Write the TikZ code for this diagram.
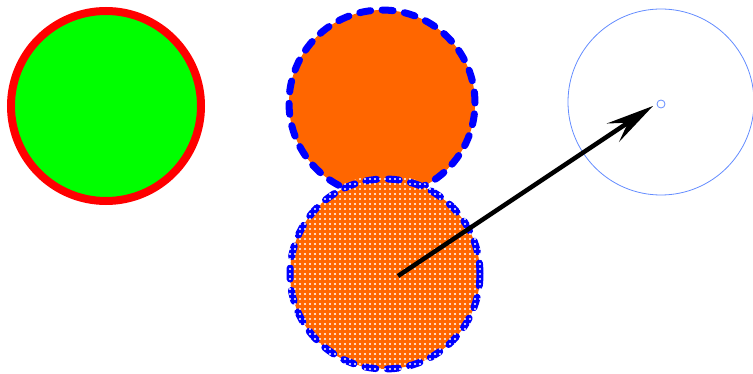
\documentclass[tikz,border=0pt]{standalone}
\usetikzlibrary{arrows.meta,patterns.meta}
\definecolor{myorange}{RGB}{255,102,0}
\definecolor{mygreen}{RGB}{0,255,0}
\definecolor{myred}{RGB}{255,0,0}
\definecolor{myblue}{RGB}{0,0,255}
\definecolor{lightblue}{RGB}{100,140,255}
\begin{document}
\begin{tikzpicture}[x=1pt,y=-1pt,
  disc/.style={circle,inner sep=0pt,outer sep=0pt},
  dashring/.style={draw=myblue,line width=7pt,line cap=round,dash pattern=on 11pt off 11.5pt},
  arrowline/.style={draw=black,line width=4.5pt,-{Stealth[length=48pt,width=22pt,inset=18pt]}}]
\useasboundingbox (0,0) rectangle (753,374);
% green circle
\node[disc,minimum size=190pt,fill=mygreen,draw=myred,line width=8pt] (g) at (106,106) {};
% top orange circle
\node[disc,minimum size=186pt,fill=myorange,dashring] (o1) at (382,103) {};
% bottom orange circle with dots
\node[disc,minimum size=190pt,fill=myorange,dashring] (o2) at (385,274) {};
\path[pattern={Dots[distance=5pt,radius=1.2pt]},pattern color=white] (o2.center) circle (99);
% right thin circle
\node[disc,minimum size=186pt,draw=lightblue,line width=0.8pt] (r) at (661,102) {};
\node[disc,minimum size=8pt,draw=lightblue,line width=0.8pt] (s) at (661,104) {};
\coordinate (tip) at (653,106);
% arrow
\coordinate (start) at (398,276);
\draw[arrowline] (start) -- (tip);
\end{tikzpicture}
\end{document}
